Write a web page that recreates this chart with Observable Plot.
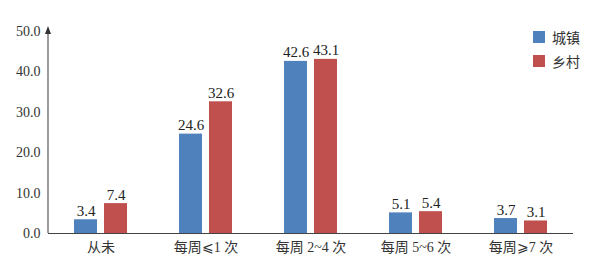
<!DOCTYPE html>
<html><head><meta charset="utf-8">
<script src="https://cdn.jsdelivr.net/npm/d3@7"></script>
<script src="https://cdn.jsdelivr.net/npm/@observablehq/plot@0.6"></script>
<style>
body{margin:0;background:#fff;}
#wrap{position:relative;width:589px;height:264px;font-family:'Liberation Serif','Noto Sans CJK SC',serif;}
.leg{position:absolute;left:533px;font-size:14px;color:#333;display:flex;align-items:center;}
.leg span{display:inline-block;width:12px;height:12px;margin-right:7px;}
</style></head>
<body><div id="wrap"></div>
<script>
const categories = ["从未", "每周⩽1 次", "每周 2~4 次", "每周 5~6 次", "每周⩾7 次"];
const series = ["城镇", "乡村"];
const urban = [3.4, 24.6, 42.6, 5.1, 3.7];
const rural = [7.4, 32.6, 43.1, 5.4, 3.1];
const yTicks = [0, 10, 20, 30, 40, 50];
const colors = ["#4f81bd", "#c0504d"];

const data = categories.flatMap((c, i) => [
  {category: c, series: series[0], value: urban[i]},
  {category: c, series: series[1], value: rural[i]}
]);
const dUrban = data.filter(d => d.series === series[0]);
const dRural = data.filter(d => d.series === series[1]);

const FONT = "'Liberation Serif', 'Noto Sans CJK SC', serif";
const plot = Plot.plot({
  width: 589, height: 264,
  marginLeft: 48, marginRight: 16, marginTop: 31, marginBottom: 31,
  style: {fontSize: "14px", fontFamily: FONT, color: "#333", background: "transparent"},
  x: {domain: categories, padding: 0, label: null, tickSize: 0, tickPadding: 9},
  y: {domain: [0, 50], ticks: yTicks, tickFormat: d => d.toFixed(1), label: null, tickSize: 0, tickPadding: 8},
  marks: [
    Plot.barY(dUrban, {x: "category", y: "value", fill: colors[0], insetLeft: 26, insetRight: 56}),
    Plot.barY(dRural, {x: "category", y: "value", fill: colors[1], insetLeft: 56, insetRight: 26}),
    Plot.text(dUrban, {x: "category", y: "value", text: d => d.value.toFixed(1), dx: -15, dy: -4, lineAnchor: "bottom", fontSize: 15, fontFamily: FONT, fill: "#222"}),
    Plot.text(dRural, {x: "category", y: "value", text: d => d.value.toFixed(1), dx: 15, dy: -4, lineAnchor: "bottom", fontSize: 15, fontFamily: FONT, fill: "#222"}),
    Plot.ruleY([0], {stroke: "#444", strokeWidth: 1.2})
  ]
});
document.getElementById("wrap").appendChild(plot);

const svg = d3.select(plot);
svg.selectAll("text").style("font-family", FONT);

// y axis line with arrow, placed with the plot's own scales
const y = plot.scale("y");
const x0 = 48;
const yBase = y.apply(0), yTop = y.apply(50);
svg.append("line").attr("x1", x0).attr("x2", x0).attr("y1", yBase).attr("y2", yTop - 2)
  .attr("stroke", "#666").attr("stroke-width", 1.3);
svg.append("path").attr("d", `M${x0-3},${yTop+3}L${x0},${yTop-5}L${x0+3},${yTop+3}Z`).attr("fill", "#333");

// legend
series.forEach((s, i) => {
  const el = document.createElement("div");
  el.className = "leg";
  el.style.top = (27 + i * 24) + "px";
  el.innerHTML = `<span style="background:${colors[i]}"></span>${s}`;
  document.getElementById("wrap").appendChild(el);
});
</script></body></html>
